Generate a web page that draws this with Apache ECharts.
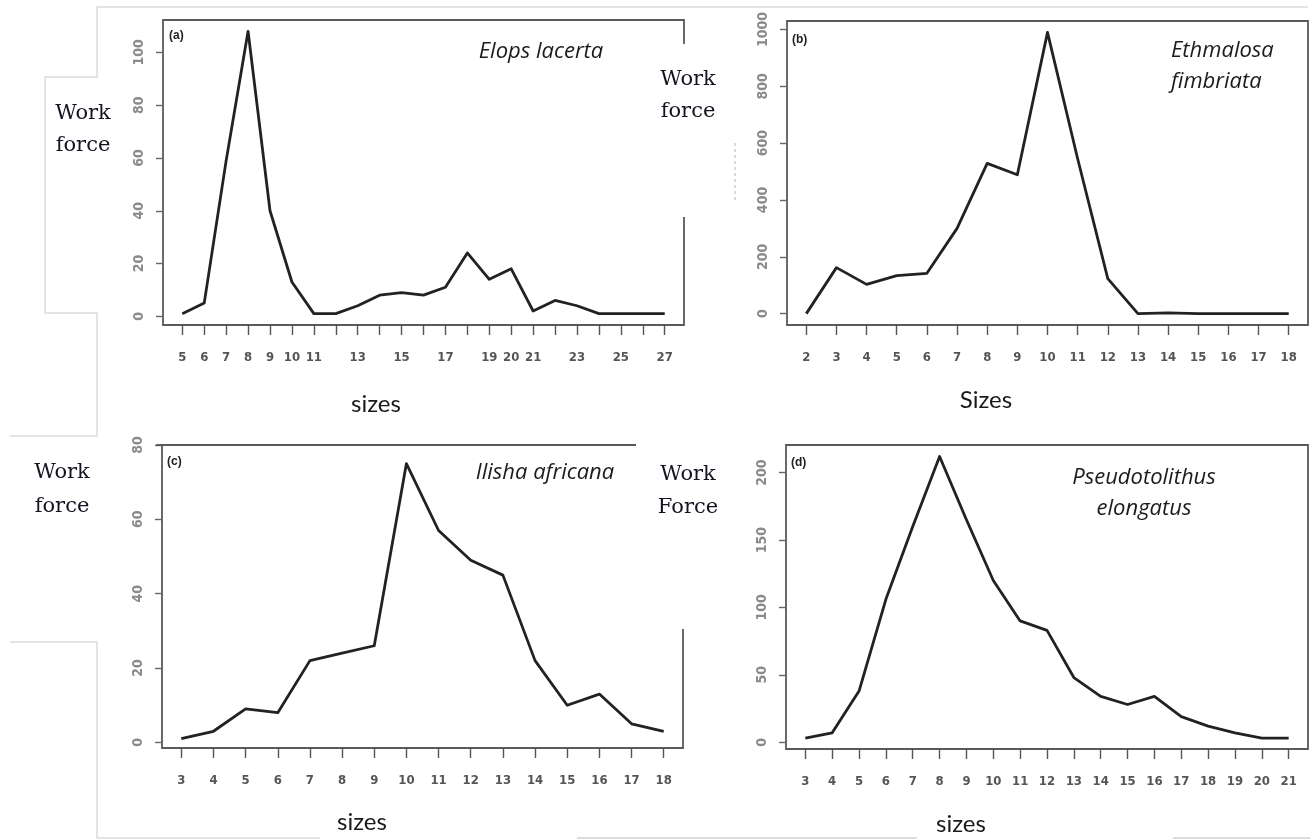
<!DOCTYPE html>
<html><head><meta charset="utf-8">
<script src="https://cdn.jsdelivr.net/npm/echarts@6/dist/echarts.min.js"></script>
<style>html,body{margin:0;padding:0;background:#fff}#c{width:1310px;height:840px}</style>
</head><body><div id="c"></div>
<script>
// ---- data ----
const sizesA  = [5,6,7,8,9,10,11,12,13,14,15,16,17,18,19,20,21,22,23,24,25,26,27];
const countsA = [1,5,59,108,40,13,1,1,4,8,9,8,11,24,14,18,2,6,4,1,1,1,1];
const sizesB  = [2,3,4,5,6,7,8,9,10,11,12,13,14,15,16,17,18];
const countsB = [0,162,103,134,142,300,529,489,990,545,123,0,3,0,0,0,0];
const sizesC  = [3,4,5,6,7,8,9,10,11,12,13,14,15,16,17,18];
const countsC = [1,3,9,8,22,24,26,75,57,49,45,22,10,13,5,3];
const sizesD  = [3,4,5,6,7,8,9,10,11,12,13,14,15,16,17,18,19,20,21];
const countsD = [3,7,38,106,160,212,165,120,90,83,48,34,28,34,19,12,7,3,3];

const xLabelsA = [5,6,7,8,9,10,11,13,15,17,19,20,21,23,25,27];
const xLabelsB = sizesB;
const xLabelsC = sizesC;
const xLabelsD = sizesD;
const yTicksA = [0,20,40,60,80,100];
const yTicksB = [0,200,400,600,800,1000];
const yTicksC = [0,20,40,60,80];
const yTicksD = [0,50,100,150,200];

const species = ['Elops lacerta', 'Ethmalosa\nfimbriata', 'Ilisha africana', 'Pseudotolithus\nelongatus'];
const panelTags = ['(a)', '(b)', '(c)', '(d)'];
const yTitles = ['Work\nforce', 'Work\nforce', 'Work\nforce', 'Work\nForce'];
const xTitles = ['sizes', 'Sizes', 'sizes', 'sizes'];

// ---- layout ----
const panels = [
  {sizes: sizesA, counts: countsA, xl: xLabelsA, yt: yTicksA, xr: [4.12, 27.88], yr: [-3.3, 112.3], g: {left: 163, top: 20, width: 521, height: 305}},
  {sizes: sizesB, counts: countsB, xl: xLabelsB, yt: yTicksB, xr: [1.36, 18.64], yr: [-40, 1030], g: {left: 787, top: 21, width: 521, height: 304}},
  {sizes: sizesC, counts: countsC, xl: xLabelsC, yt: yTicksC, xr: [2.4, 18.6], yr: [-1.5, 80], g: {left: 162, top: 445, width: 521, height: 303}},
  {sizes: sizesD, counts: countsD, xl: xLabelsD, yt: yTicksD, xr: [2.28, 21.72], yr: [-5, 220.5], g: {left: 786, top: 445, width: 522, height: 304}}
];

const tickFont = '"DejaVu Sans Condensed", "Liberation Sans", sans-serif';
const grids = [], xAxes = [], yAxes = [], series = [];
panels.forEach((p, i) => {
  grids.push(Object.assign({show: true, borderColor: '#5a5a5a', borderWidth: 1.8, backgroundColor: 'transparent', containLabel: false}, p.g));
  xAxes.push({
    type: 'value', gridIndex: i, min: p.xr[0], max: p.xr[1], position: 'bottom',
    axisLine: {show: false, onZero: false}, splitLine: {show: false},
    axisTick: {show: true, length: 10, customValues: p.sizes, lineStyle: {color: '#555', width: 1.4}},
    axisLabel: {show: true, customValues: p.xl, margin: 26, color: '#555', fontSize: 13,
      fontFamily: tickFont, fontWeight: 'bold', formatter: v => String(v)}
  });
  yAxes.push({
    type: 'value', gridIndex: i, min: p.yr[0], max: p.yr[1], position: 'left',
    axisLine: {show: false, onZero: false}, splitLine: {show: false},
    axisTick: {show: true, length: 7, customValues: p.yt, lineStyle: {color: '#666', width: 1.4}},
    axisLabel: {show: true, customValues: p.yt, rotate: 90, margin: 17, color: '#8a8a8a', fontSize: 14,
      fontFamily: tickFont, fontWeight: 'bold', formatter: v => String(v)}
  });
  series.push({
    type: 'line', xAxisIndex: i, yAxisIndex: i, symbol: 'none', silent: true,
    lineStyle: {color: '#222', width: 2.8, join: 'round'},
    data: p.sizes.map((s, k) => [s, p.counts[k]])
  });
});

// ---- annotation text & scan artefacts ----
const serif = '21px "DejaVu Serif", serif';
const sans = '24px Lato, "Open Sans", sans-serif';
const ital = 'italic 22px "Open Sans", Lato, sans-serif';
const tagFont = 'bold 12px "Liberation Sans", sans-serif';
function txt(t, x, y, font, align, color, lh) {
  return {type: 'text', z: 50, silent: true, style: {text: t, x: x, y: y, font: font, fill: color || '#141420', align: align || 'center', verticalAlign: 'middle', lineHeight: lh || 24}};
}
function pl(points, color, width, dash) {
  return {type: 'polyline', z: 40, silent: true, shape: {points: points}, style: {stroke: color, lineWidth: width, fill: null, lineDash: dash || null}};
}
const graphic = [
  // white gaps in frames (as in the composite reference)
  {type: 'rect', z: 30, silent: true, shape: {x: 680, y: 44, width: 10, height: 173}, style: {fill: '#fff'}},
  {type: 'rect', z: 30, silent: true, shape: {x: 636, y: 438, width: 52, height: 191}, style: {fill: '#fff'}},
  pl([[156, 445], [163, 445]], '#5a5a5a', 1.8),
  // light grey artefact lines
  pl([[1308, 7], [97, 7], [97, 77], [45, 77], [45, 313], [97, 313], [97, 436], [10, 436]], '#dcdcdc', 1.5),
  pl([[10, 642], [97, 642], [97, 838], [320, 838]], '#dcdcdc', 1.5),
  pl([[577, 838], [917, 838]], '#dcdcdc', 2),
  pl([[1173, 838], [1310, 838]], '#dcdcdc', 2),
  pl([[735, 143], [735, 200]], '#aab4cc', 1, [3, 3]),
  // y titles
  txt(yTitles[0], 83, 130, serif, 'center', null, 32),
  txt(yTitles[1], 688, 96, serif, 'center', null, 32),
  txt(yTitles[2], 62, 490, serif, 'center', null, 34),
  txt(yTitles[3], 688, 491, serif, 'center', null, 33),
  // x titles
  txt(xTitles[0], 376, 404, sans, 'center', '#1a1a1a'),
  txt(xTitles[1], 986, 400, sans, 'center', '#1a1a1a'),
  txt(xTitles[2], 362, 822, sans, 'center', '#1a1a1a'),
  txt(xTitles[3], 961, 824, sans, 'center', '#1a1a1a'),
  // species
  txt(species[0], 541, 52, ital, 'center', '#1c1c1c'),
  txt(species[1], 1171, 66, ital, 'left', '#1c1c1c', 31),
  txt(species[2], 545, 473, ital, 'center', '#1c1c1c'),
  txt(species[3], 1144, 493, ital, 'center', '#1c1c1c', 31),
  // panel tags
  txt(panelTags[0], 169, 36, tagFont, 'left', '#222'),
  txt(panelTags[1], 792, 40, tagFont, 'left', '#222'),
  txt(panelTags[2], 167, 462, tagFont, 'left', '#222'),
  txt(panelTags[3], 791, 463, tagFont, 'left', '#222')
];

const chart = echarts.init(document.getElementById('c'), null, {renderer: 'canvas'});
chart.setOption({
  animation: false,
  backgroundColor: '#fff',
  grid: grids, xAxis: xAxes, yAxis: yAxes, series: series, graphic: graphic
});
</script></body></html>
